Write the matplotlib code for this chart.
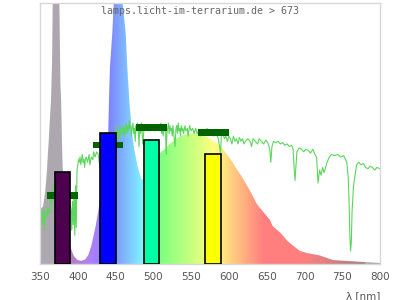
import numpy as np
import matplotlib
matplotlib.use("Agg")
import matplotlib.pyplot as plt
from matplotlib.patches import Polygon

# lamp spectrum (relative, 1.0 = top of plot)
lamp_wl = [350, 354, 357, 359, 360, 361.5, 363, 364.6, 366, 367, 369, 371, 373, 375.6, 377, 378, 379,
           380, 383, 386, 390, 392, 395, 398, 400, 405, 410, 414, 418, 421, 424, 427, 430, 434, 438,
           440.4, 441.3, 442.6, 445.7, 448, 451, 454, 457, 458.9, 463.4, 465.5, 468.2, 471.4, 474.8,
           479.3, 484.6, 490, 495, 500, 505, 509, 515, 520, 530, 540, 548, 555, 565, 575, 585, 592,
           600, 605, 610, 617, 624, 628, 637, 641, 654, 658, 668, 677, 685, 694, 703, 720, 738, 760,
           782, 800]
lamp_val = [0.21, 0.22, 0.28, 0.35, 0.40, 0.47, 0.55, 0.63, 0.78, 1.05, 1.30, 1.40, 1.30, 1.02, 0.69,
            0.63, 0.48, 0.37, 0.27, 0.17, 0.07, 0.05, 0.03, 0.02, 0.015, 0.012, 0.018, 0.035, 0.07,
            0.11, 0.15, 0.20, 0.26, 0.35, 0.45, 0.51, 0.628, 0.755, 0.885, 1.02, 1.25, 1.35, 1.20,
            1.01, 0.885, 0.755, 0.628, 0.51, 0.437, 0.372, 0.322, 0.33, 0.36, 0.39, 0.41, 0.425,
            0.44, 0.455, 0.48, 0.495, 0.50, 0.50, 0.495, 0.48, 0.46, 0.44, 0.41, 0.39, 0.365, 0.335,
            0.30, 0.28, 0.23, 0.215, 0.17, 0.145, 0.12, 0.09, 0.07, 0.05, 0.042, 0.033, 0.015,
            0.011, 0.007, 0.004]

# sunlight reference spectrum
sun_wl = [350, 351, 352, 353, 354, 355, 356, 357, 358, 359, 360, 361, 362, 363, 364, 365, 366, 368,
          372, 376, 380, 384, 388, 391, 392, 393, 394, 395, 396, 397, 398, 399, 400, 401, 402, 403,
          404, 405, 406, 407, 408, 409, 410, 411, 413, 415, 416, 418, 420, 421, 423, 425, 427, 430,
          435, 440, 445, 450, 451, 452, 453, 454, 455, 456, 457, 458, 459, 460, 461, 462, 463, 464,
          465, 466, 467, 468, 469, 470, 471, 472, 473, 474, 475, 476, 477, 478, 479, 480, 481, 482,
          483, 484, 485, 486, 488, 495, 502, 509, 510, 511, 512, 513, 514, 515, 516, 517, 518, 519,
          520, 521, 522, 523, 524, 525, 526, 527, 528.7, 530, 531, 532, 533, 534, 535, 536, 537, 538,
          539, 540, 542, 543, 545, 546, 548, 550, 552, 554, 556, 558, 560, 562, 565, 568, 571, 574,
          577, 580, 583, 586, 589, 590, 592, 594, 596, 598, 600, 602, 604, 606, 608, 610, 612, 614,
          616, 618, 620, 622, 625, 628, 630, 632, 635, 638, 640, 643, 646, 649, 652, 654, 655.5, 657,
          659, 662, 665, 668, 671, 674, 677, 680, 683, 685, 686.5, 687.5, 689, 690, 693, 696, 699,
          702, 705, 708, 711, 714, 716, 718, 720, 722, 724, 726, 728, 730, 733, 736, 740, 744, 748,
          752, 756, 758, 759, 760, 761, 762, 763, 764, 765, 767, 769, 772, 775, 778, 781, 784, 787,
          790, 793, 796, 800]
sun_val = [0.19, 0.17, 0.20, 0.15, 0.19, 0.21, 0.13, 0.17, 0.20, 0.18, 0.22, 0.19, 0.21, 0.20, 0.25,
           0.23, 0.27, 0.30, 0.30, 0.32, 0.28, 0.30, 0.25, 0.21, 0.13, 0.24, 0.15, 0.27, 0.11, 0.30,
           0.14, 0.36, 0.38, 0.40, 0.39, 0.41, 0.38, 0.40, 0.42, 0.39, 0.40, 0.37, 0.40, 0.41, 0.39,
           0.42, 0.38, 0.41, 0.40, 0.43, 0.41, 0.43, 0.42, 0.36, 0.45, 0.47, 0.50, 0.49, 0.53, 0.48,
           0.51, 0.475, 0.50, 0.53, 0.49, 0.51, 0.52, 0.50, 0.53, 0.49, 0.52, 0.54, 0.50, 0.53, 0.51,
           0.55, 0.52, 0.53, 0.49, 0.52, 0.54, 0.50, 0.52, 0.47, 0.53, 0.51, 0.54, 0.52, 0.45, 0.53,
           0.50, 0.54, 0.51, 0.46, 0.53, 0.52, 0.53, 0.52, 0.54, 0.50, 0.53, 0.49, 0.52, 0.51, 0.53,
           0.42, 0.50, 0.52, 0.54, 0.50, 0.53, 0.51, 0.52, 0.49, 0.53, 0.50, 0.45, 0.52, 0.53, 0.50,
           0.54, 0.51, 0.52, 0.49, 0.53, 0.51, 0.52, 0.50, 0.53, 0.51, 0.52, 0.49, 0.53, 0.51, 0.52,
           0.50, 0.52, 0.50, 0.51, 0.49, 0.51, 0.50, 0.52, 0.50, 0.51, 0.49, 0.50, 0.48, 0.425, 0.49,
           0.50, 0.48, 0.49, 0.47, 0.49, 0.48, 0.46, 0.49, 0.47, 0.48, 0.46, 0.485, 0.47, 0.48, 0.46,
           0.47, 0.48, 0.47, 0.45, 0.48, 0.47, 0.46, 0.48, 0.47, 0.46, 0.475, 0.46, 0.44, 0.39, 0.45,
           0.47, 0.465, 0.47, 0.46, 0.465, 0.455, 0.46, 0.45, 0.455, 0.44, 0.36, 0.32, 0.39, 0.43,
           0.445, 0.44, 0.43, 0.44, 0.435, 0.425, 0.44, 0.42, 0.41, 0.31, 0.36, 0.34, 0.37, 0.35,
           0.37, 0.39, 0.41, 0.42, 0.415, 0.42, 0.41, 0.415, 0.39, 0.33, 0.24, 0.12, 0.05, 0.08,
           0.20, 0.25, 0.30, 0.34, 0.38, 0.39, 0.38, 0.385, 0.37, 0.365, 0.375, 0.37, 0.36, 0.37,
           0.365]

# colour bands
band_center = [380, 440, 497, 579]
band_value = [0.354, 0.5015, 0.475, 0.421]
band_ref = [0.263, 0.456, 0.524, 0.504]
ticks = [350, 400, 450, 500, 550, 600, 650, 700, 750, 800]


def wl_rgb(w):
    if w < 380 or w > 780:
        return None
    if w < 440:
        r, g, b = (440 - w) / 60, 0, 1
    elif w < 490:
        r, g, b = 0, (w - 440) / 50, 1
    elif w < 510:
        r, g, b = 0, 1, (510 - w) / 20
    elif w < 580:
        r, g, b = (w - 510) / 70, 1, 0
    elif w < 645:
        r, g, b = 1, (645 - w) / 65, 0
    else:
        r, g, b = 1, 0, 0
    f = 1.0
    if w < 420:
        f = 0.3 + 0.7 * (w - 380) / 40
    elif w > 700:
        f = 0.3 + 0.7 * (780 - w) / 80
    return (r * f, g * f, b * f)


def fill_rgb(w):
    c = wl_rgb(w)
    if c is None:
        return (0.68, 0.66, 0.69) if w < 380 else (0.66, 0.66, 0.66)
    return tuple(0.5 + 0.5 * v for v in c)


fig = plt.figure(figsize=(4, 3), dpi=100)
ax = fig.add_axes([0.1, 0.12, 0.85, 0.87])

grid = np.arange(350, 800.5, 0.5)
img = np.array([[fill_rgb(w) for w in grid]])
im = ax.imshow(img, extent=[350, 800, 0, 1.6], aspect='auto', origin='lower',
               interpolation='nearest', zorder=1)
verts = list(zip(lamp_wl, lamp_val)) + [(800, 0), (350, 0)]
poly = Polygon(verts, closed=True, facecolor='none', edgecolor='none', transform=ax.transData)
ax.add_patch(poly)
im.set_clip_path(poly)

ax.plot(sun_wl, sun_val, color='#5cd65c', lw=0.8, zorder=2)

ax.bar(band_center, [0.026] * 4, bottom=[v - 0.013 for v in band_ref], width=41,
       color='#006400', zorder=3)
ax.bar(band_center, band_value, width=20, color=[wl_rgb(w) for w in band_center],
       edgecolor='black', linewidth=1.2, zorder=4)

ax.set_xlim(350, 800)
ax.set_ylim(0, 1)
ax.set_xticks(ticks)
ax.set_yticks([])
ax.tick_params(axis='x', length=0, pad=6, labelsize=7.5, labelcolor='#555555')
for s in ax.spines.values():
    s.set_color('#d8d8d8')
    s.set_linewidth(1)

ax.text(0.47, 0.969, 'lamps.licht-im-terrarium.de > 673', transform=ax.transAxes,
        ha='center', va='center', family='DejaVu Sans Mono', fontsize=7.2, color='#666666')
ax.text(1.0, -0.1226, 'λ [nm]', transform=ax.transAxes, ha='right', va='center',
        fontsize=7.5, color='#555555')

fig.savefig('out.png', dpi=100)
